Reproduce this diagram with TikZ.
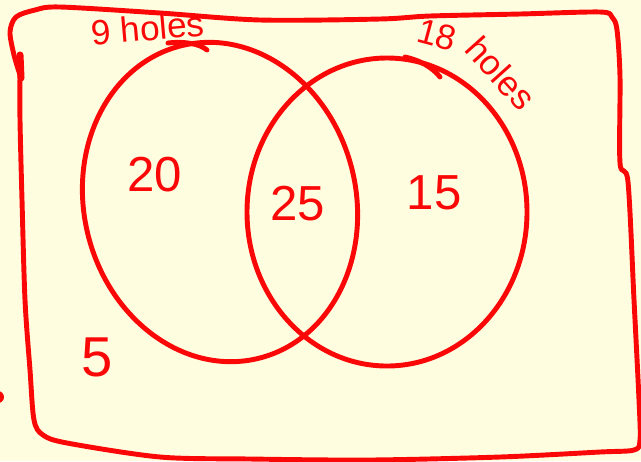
\documentclass[tikz,border=0pt]{standalone}
\usepackage{fontspec}
\setmainfont{Liberation Sans}
\definecolor{pen}{RGB}{250,8,8}
\definecolor{paper}{RGB}{255,253,224}

\begin{document}
\begin{tikzpicture}[x=0.02cm, y=-0.02cm,
    stroke/.style={draw=pen, line width=2.8pt, line cap=round, line join=round},
    num/.style={text=pen, font=\fontsize{28}{28}\selectfont},
    tag/.style={text=pen, font=\fontsize{20}{20}\selectfont}]

    % paper
    \fill[paper] (0,0) rectangle (641,461);
    \useasboundingbox (0,0) rectangle (641,461);

    % frame
    \draw[stroke] plot[smooth, tension=0.5] coordinates {
        (20,75) (14,55) (10,32) (16,17) (35,10) (60,7) (160,13) (260,20)
        (380,19) (430,16) (520,14) (600,12) (612,17) (617,30) (620,77)
        (620,163) (628,182) (634,300) (639,400) (640,440) (634,450)
        (600,452) (500,457) (370,460) (250,459) (160,457) (67,443)
        (43,435) (34,420) (30,370) (25,300) (22,200) (20,120) (20,75)};
    \draw[stroke, line width=4pt] (20,55) -- (21,78);
    \fill[pen] (-2,397) circle (6);

    % sets
    \draw[stroke, rotate around={14:(220,202)}] (220,202) ellipse [x radius=136, y radius=161];
    \draw[stroke] (387,212) ellipse [x radius=140, y radius=154];

    % set labels
    \node[tag, rotate=5] (nine) at (148,28) {9 holes};
    \draw[stroke] (168,43) .. controls (185,41) and (200,44) .. (207,50);
    \node[tag, rotate=-15] (eighteen) at (437,35) {18};
    \node[tag, rotate=-48] (holes) at (501,73) {holes};
    \draw[stroke] (405,57) .. controls (420,60) and (433,68) .. (440,77);

    % counts
    \node[num] (only9) at (155,175) {20};
    \node[num] (both) at (298,204) {25};
    \node[num] (only18) at (434,193) {15};
    \node[num, font=\fontsize{32}{32}\selectfont] (none) at (97,357) {5};
\end{tikzpicture}
\end{document}
